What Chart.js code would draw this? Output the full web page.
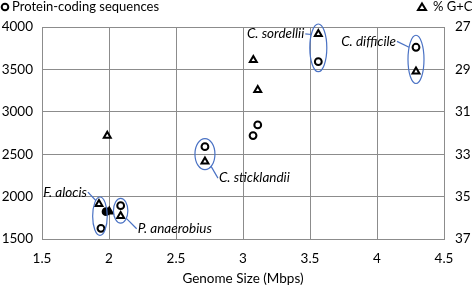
<!DOCTYPE html>
<html>
<head>
<meta charset="utf-8">
<script src="https://cdn.jsdelivr.net/npm/chart.js@4.4.1/dist/chart.umd.min.js"></script>
<style>
  html, body { margin: 0; padding: 0; background: #fff; }
  #wrap { width: 472px; height: 287px; position: relative; }
</style>
</head>
<body>
<div id="wrap"><canvas id="genomeChart"></canvas></div>
<script>
'use strict';

// --- data ---
const cdsGenome = [1.94, 1.978, 2.087, 2.716, 3.075, 3.11, 3.562, 4.291];
const cdsCount  = [1626, 1822, 1893, 2589, 2720, 2845, 3591, 3761];
const gcGenome  = [1.925, 2.002, 2.087, 2.716, 3.077, 3.11, 3.562, 4.291, 1.987];
const gcPercent = [35.35, 35.7, 35.91, 33.35, 28.56, 29.97, 27.33, 29.1, 32.13];

const xTicks   = [1.5, 2, 2.5, 3, 3.5, 4, 4.5];
const cdsTicks = [1500, 2000, 2500, 3000, 3500, 4000];
const gcTicks  = [27, 29, 31, 33, 35, 37];

// circled organisms: index into cds series and gc series
const groupNames = ['F. alocis', 'P. anaerobius', 'C. sticklandii', 'C. sordellii', 'C. difficile'];
const groupCds   = [0, 2, 3, 6, 7];
const groupGc    = [0, 2, 3, 6, 7];

// ellipse / label styling per group
const groupStyle = [
  { rx: 7.3, pad: 7,   angle: -125, tx: -12, ty: -24, align: 'right' },
  { rx: 7.2, pad: 7.3, angle: 38,   tx: 16,  ty: 18,  align: 'left' },
  { rx: 10,  pad: 8,   angle: 52,   tx: 13,  ty: 24,  align: 'left' },
  { rx: 8.5, pad: 10,  angle: -146, tx: -13, ty: -14, align: 'right' },
  { rx: 8,   pad: 12,  angle: -150, tx: -19, ty: -18, align: 'right' },
];

const FONT = 'Lato, "Open Sans", sans-serif';
const GRID = '#8c8c8c';
const BLUE = '#4a72c4';

const toPts = (xs, ys) => xs.map((x, i) => ({ x, y: ys[i] }));
const plain = v => String(v);

const ringPlugin = {
  id: 'rings',
  afterDatasetsDraw(chart) {
    const ctx = chart.ctx;
    const m0 = chart.getDatasetMeta(0).data;
    const m1 = chart.getDatasetMeta(1).data;
    ctx.save();
    groupNames.forEach((name, g) => {
      const s = groupStyle[g];
      const a = m0[groupCds[g]], b = m1[groupGc[g]];
      const cx = (a.x + b.x) / 2, cy = (a.y + b.y) / 2;
      const ry = Math.abs(a.y - b.y) / 2 + s.pad;
      ctx.strokeStyle = BLUE;
      ctx.lineWidth = 1.2;
      ctx.beginPath();
      ctx.ellipse(cx, cy, s.rx, ry, 0, 0, Math.PI * 2);
      ctx.stroke();
      const th = s.angle * Math.PI / 180;
      const ex = cx + s.rx * Math.cos(th), ey = cy + ry * Math.sin(th);
      const lx = cx + s.tx, ly = cy + s.ty;
      ctx.beginPath();
      ctx.moveTo(ex, ey);
      ctx.lineTo(lx, ly);
      ctx.stroke();
      ctx.fillStyle = '#000';
      ctx.font = 'italic 13.5px ' + FONT;
      ctx.textAlign = s.align;
      ctx.textBaseline = 'middle';
      ctx.fillText(name, lx + (s.align === 'left' ? 1 : -1), ly);
    });
    ctx.restore();
  },
};

const keyPlugin = {
  id: 'keys',
  afterDraw(chart) {
    const ctx = chart.ctx;
    ctx.save();
    ctx.strokeStyle = '#000';
    ctx.lineWidth = 2;
    ctx.beginPath();
    ctx.arc(5, 7, 3.3, 0, Math.PI * 2);
    ctx.stroke();
    ctx.beginPath();
    ctx.moveTo(422, 3.5);
    ctx.lineTo(426, 10);
    ctx.lineTo(418, 10);
    ctx.closePath();
    ctx.stroke();
    ctx.fillStyle = '#000';
    ctx.font = '13px ' + FONT;
    ctx.textBaseline = 'middle';
    ctx.textAlign = 'left';
    ctx.fillText(chart.data.datasets[0].label, 12, 7);
    ctx.fillText(chart.data.datasets[1].label, 433, 7);
    ctx.restore();
  },
};

new Chart(document.getElementById('genomeChart').getContext('2d'), {
  type: 'scatter',
  data: {
    datasets: [
      {
        label: 'Protein-coding sequences',
        data: toPts(cdsGenome, cdsCount),
        pointStyle: 'circle',
        pointRadius: 3.4,
        borderWidth: 2,
        borderColor: '#000',
        backgroundColor: ctx => (ctx.dataIndex === 1 ? '#000' : '#fff'),
        yAxisID: 'y',
      },
      {
        label: '% G+C',
        data: toPts(gcGenome, gcPercent),
        pointStyle: 'triangle',
        pointRadius: 4,
        borderWidth: 2,
        borderColor: '#000',
        backgroundColor: ctx => (ctx.dataIndex === 1 ? '#000' : '#fff'),
        yAxisID: 'y2',
      },
    ],
  },
  options: {
    responsive: true,
    maintainAspectRatio: false,
    animation: false,
    layout: { padding: { top: 27, left: 0, right: 0, bottom: 0 } },
    plugins: { legend: { display: false }, tooltip: { enabled: false } },
    scales: {
      x: {
        type: 'linear',
        min: 1.5, max: 4.5,
        afterBuildTicks: s => { s.ticks = xTicks.map(v => ({ value: v })); },
        afterFit: s => { s.height = 48; },
        grid: { color: GRID, lineWidth: 1, drawTicks: false },
        border: { color: GRID },
        ticks: { color: '#000', padding: 12, callback: plain, font: { family: FONT, size: 13.5 }, maxRotation: 0 },
        title: { display: true, text: 'Genome Size (Mbps)', color: '#000', padding: { top: 0, bottom: 0 }, font: { family: FONT, size: 13.5 } },
      },
      y: {
        position: 'left',
        min: 1500, max: 4000,
        afterBuildTicks: s => { s.ticks = cdsTicks.map(v => ({ value: v })); },
        afterFit: s => { s.width = 42; },
        grid: { color: GRID, lineWidth: 1, drawTicks: false },
        border: { color: GRID },
        ticks: { color: '#000', padding: 9, callback: plain, font: { family: FONT, size: 13.5 } },
      },
      y2: {
        position: 'right',
        min: 27, max: 37,
        reverse: true,
        afterBuildTicks: s => { s.ticks = gcTicks.map(v => ({ value: v })); },
        afterFit: s => { s.width = 28; },
        grid: { drawOnChartArea: false, color: GRID, drawTicks: false },
        border: { color: GRID },
        ticks: { color: '#000', padding: 11, callback: plain, font: { family: FONT, size: 13.5 } },
      },
    },
  },
  plugins: [ringPlugin, keyPlugin],
});
</script>
</body>
</html>
